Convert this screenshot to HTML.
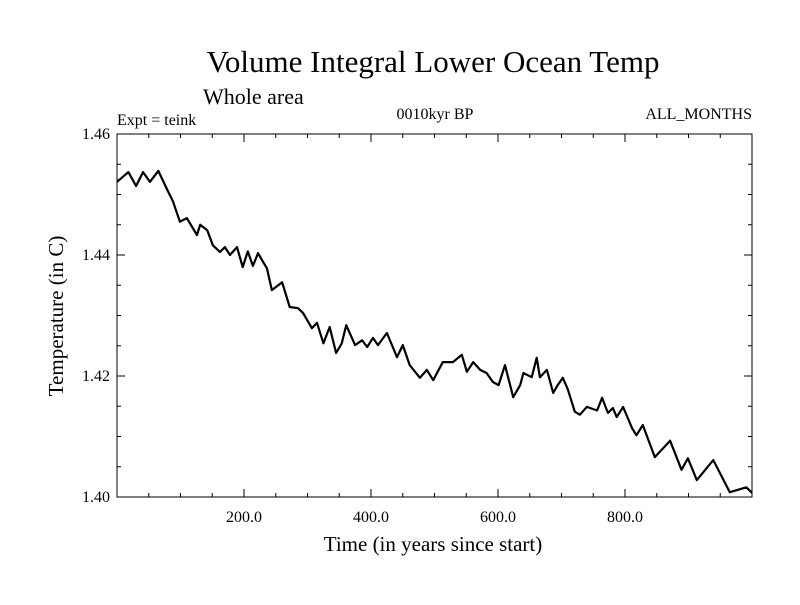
<!DOCTYPE html>
<html><head><meta charset="utf-8"><style>
body{margin:0;background:#fff}
svg text{font-family:"Liberation Serif",serif;fill:#000}
</style></head><body>
<svg id="chart" width="800" height="600">
<text x="433" y="72" font-size="31" text-anchor="middle">Volume Integral Lower Ocean Temp</text>
<text x="203" y="104" font-size="22">Whole area</text>
<text x="117" y="125" font-size="16">Expt = teink</text>
<text x="435" y="119" font-size="16" text-anchor="middle">0010kyr BP</text>
<text x="752" y="119" font-size="16" text-anchor="end">ALL_MONTHS</text>
<text x="433" y="551" font-size="21" text-anchor="middle">Time (in years since start)</text>
<text transform="translate(63,316) rotate(-90)" font-size="21" text-anchor="middle">Temperature (in C)</text>
<g id="axes"></g>
<path id="series" fill="none" stroke="#000" stroke-width="2.2" stroke-linejoin="round"></path>
<rect x="117" y="134" width="635" height="363" fill="none" stroke="#000" stroke-width="1"></rect>
</svg>
<script>
const years=[0,18,30,41,52,65,80,88,99,110,126,131,142,151,162,170,178,189,198,206,214,222,236,244,260,272,285,293,307,315,325,335,345,354,361,375,386,394,403,411,425,441,450,461,477,488,498,513,529,543,551,561,572,582,592,601,611,624,635,640,653,661,666,677,687,694,702,710,721,729,740,756,764,773,781,787,797,811,818,828,847,871,889,899,913,939,965,991,1000];
const temps=[1.4521,1.4537,1.4514,1.4537,1.4521,1.4539,1.4506,1.4489,1.4455,1.4461,1.4433,1.4450,1.4441,1.4416,1.4405,1.4413,1.4400,1.4413,1.4380,1.4406,1.4382,1.4403,1.4378,1.4342,1.4355,1.4314,1.4312,1.4304,1.4279,1.4288,1.4254,1.4281,1.4238,1.4254,1.4284,1.4251,1.4259,1.4248,1.4263,1.4251,1.4271,1.4231,1.4251,1.4218,1.4197,1.4210,1.4193,1.4223,1.4223,1.4235,1.4207,1.4223,1.4210,1.4205,1.4190,1.4185,1.4218,1.4165,1.4185,1.4205,1.4198,1.4230,1.4198,1.4210,1.4172,1.4185,1.4197,1.4178,1.4141,1.4136,1.4149,1.4143,1.4164,1.4139,1.4147,1.4132,1.4149,1.4114,1.4102,1.4119,1.4066,1.4093,1.4045,1.4064,1.4028,1.4061,1.4008,1.4016,1.4007];
const xTicks=[200,400,600,800];
const xTickLabels=["200.0","400.0","600.0","800.0"];
const yTicks=[1.40,1.42,1.44,1.46];
const yTickLabels=["1.40","1.42","1.44","1.46"];
const X0=117,X1=752,Y0=497,Y1=134,XMIN=0,XMAX=1000,YMIN=1.40,YMAX=1.46;
const sx=v=>X0+(v-XMIN)/(XMAX-XMIN)*(X1-X0);
const sy=v=>Y0-(v-YMIN)/(YMAX-YMIN)*(Y0-Y1);
const NS="http://www.w3.org/2000/svg";
const g=document.getElementById('axes');
function line(x1,y1,x2,y2,name){const l=document.createElementNS(NS,'line');l.setAttribute('x1',x1);l.setAttribute('y1',y1);l.setAttribute('x2',x2);l.setAttribute('y2',y2);l.setAttribute('stroke','#000');


g.appendChild(l);}
function text(x,y,s,anchor,name){const t=document.createElementNS(NS,'text');t.setAttribute('x',x);t.setAttribute('y',y);t.setAttribute('font-size','16');t.setAttribute('text-anchor',anchor);t.textContent=s;


g.appendChild(t);}
for(let v=50;v<XMAX;v+=50){const x=sx(v);const major=v%200===0;const len=major?8:4;
line(x,Y0,x,Y0-len,'x-tick');line(x,Y1,x,Y1+len,'x-tick-top');}
for(let i=1;i<12;i++){const v=YMIN+i*0.005;const y=sy(v);const major=i%4===0;const len=major?8:4;
line(X0,y,X0+len,y,'y-tick');line(X1,y,X1-len,y,'y-tick-right');}
xTicks.forEach((v,i)=>text(sx(v),522,xTickLabels[i],'middle','x-tick-label'));
yTicks.forEach((v,i)=>text(110,sy(v)+5,yTickLabels[i],'end','y-tick-label'));
document.getElementById('series').setAttribute('d',years.map((y,i)=>(i?'L':'M')+sx(y).toFixed(1)+' '+sy(temps[i]).toFixed(1)).join(' '));
</script>
</body></html>
